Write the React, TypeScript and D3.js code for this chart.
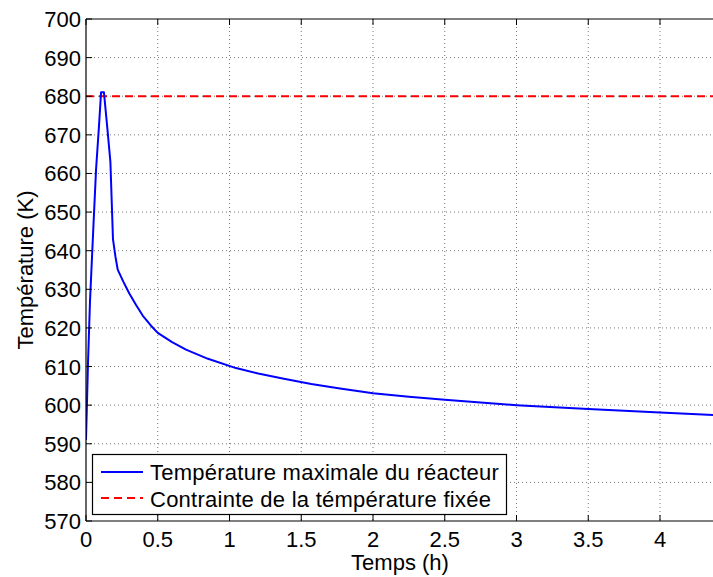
import React from "react";
import * as d3 from "d3";

const timeH = [0, 0.014, 0.028, 0.05, 0.07, 0.09, 0.105, 0.125, 0.148, 0.17, 0.188, 0.205, 0.221, 0.26, 0.302, 0.35, 0.395, 0.45, 0.5, 0.6, 0.697, 0.85, 1.045, 1.2, 1.37, 1.57, 1.77, 2.0, 2.25, 2.5, 2.75, 3.0, 3.5, 4.0, 4.5];
const tempMax = [591, 611, 627, 645, 661, 672, 681, 681, 672, 663, 643, 638.5, 635.1, 632, 628.9, 625.9, 623.2, 620.7, 618.7, 616.3, 614.4, 612, 609.6, 608.2, 606.9, 605.5, 604.3, 603.1, 602.2, 601.4, 600.7, 600, 599, 598.1, 597.2];
const constraintT = 680;
const xTicks = [0, 0.5, 1, 1.5, 2, 2.5, 3, 3.5, 4];
const yTicks = [570, 580, 590, 600, 610, 620, 630, 640, 650, 660, 670, 680, 690, 700];
const legendLabels = ["Température maximale du réacteur", "Contrainte de la témpérature fixée"];

export default function App() {
  const W = 713, H = 577;
  const left = 86, top = 19, bottom = 521;
  const x = d3.scaleLinear().domain([0, 4.5]).range([left, left + 4.5 * 143.5]);
  const y = d3.scaleLinear().domain([570, 700]).range([bottom, top]);
  const right = x(4.5);
  const line = d3.line<number>().x((_, i) => x(timeH[i])).y((d) => y(d));
  const font = "'Liberation Sans', Arial, Helvetica, sans-serif";
  const fs = 22;
  const gridColor = "#777";
  return (
    <svg width={W} height={H} style={{ position: "absolute", left: 0, top: 0, background: "#fff" }} fontFamily={font}>
      <defs>
        <clipPath id="plot">
          <rect x={left} y={top} width={right - left} height={bottom - top} />
        </clipPath>
      </defs>
      <rect x={0} y={0} width={W} height={H} fill="#fff" />
      {xTicks.filter((t) => t > 0).map((t) => (
        <line key={"gx" + t} x1={x(t)} x2={x(t)} y1={top} y2={bottom} stroke={gridColor} strokeWidth={1} strokeDasharray="1,3" />
      ))}
      {yTicks.filter((t) => t > 570 && t < 700).map((t) => (
        <line key={"gy" + t} x1={left} x2={right} y1={y(t)} y2={y(t)} stroke={gridColor} strokeWidth={1} strokeDasharray="1,3" />
      ))}
      <g clipPath="url(#plot)">
        <line x1={left} x2={right} y1={y(constraintT)} y2={y(constraintT)} stroke="#ff0000" strokeWidth={2} strokeDasharray="8,5" />
        <path d={line(tempMax) || ""} fill="none" stroke="#0000ff" strokeWidth={2} strokeLinejoin="round" />
      </g>
      <line x1={left} x2={left} y1={top} y2={bottom} stroke="#000" strokeWidth={1.2} />
      <line x1={left} x2={right} y1={bottom} y2={bottom} stroke="#000" strokeWidth={1.2} />
      <line x1={left} x2={right} y1={top} y2={top} stroke="#000" strokeWidth={1.2} />
      {xTicks.map((t) => (
        <g key={"xt" + t}>
          <line x1={x(t)} x2={x(t)} y1={bottom} y2={bottom - 6} stroke="#000" />
          <line x1={x(t)} x2={x(t)} y1={top} y2={top + 6} stroke="#000" />
          <text x={x(t)} y={bottom + 26} fontSize={fs} textAnchor="middle" fill="#000">{t}</text>
        </g>
      ))}
      {yTicks.map((t) => (
        <g key={"yt" + t}>
          <line x1={left} x2={left + 6} y1={y(t)} y2={y(t)} stroke="#000" />
          <text x={left - 5} y={y(t) + 8} fontSize={fs} textAnchor="end" fill="#000">{t}</text>
        </g>
      ))}
      <text x={400} y={570} fontSize={fs} textAnchor="middle" fill="#000">Temps (h)</text>
      <text transform={`translate(33, ${(top + bottom) / 2}) rotate(-90)`} fontSize={fs} textAnchor="middle" fill="#000">Température (K)</text>
      <g>
        <rect x={92.5} y={454.5} width={414} height={60} fill="#fff" stroke="#000" strokeWidth={1.2} />
        <line x1={101} x2={143} y1={472} y2={472} stroke="#0000ff" strokeWidth={2} />
        <line x1={101} x2={143} y1={498} y2={498} stroke="#ff0000" strokeWidth={2} strokeDasharray="8,5" />
        <text x={150} y={480} fontSize={fs} fill="#000" letterSpacing={0.25}>{legendLabels[0]}</text>
        <text x={150} y={507} fontSize={fs} fill="#000" letterSpacing={0.25}>{legendLabels[1]}</text>
      </g>
    </svg>
  );
}
